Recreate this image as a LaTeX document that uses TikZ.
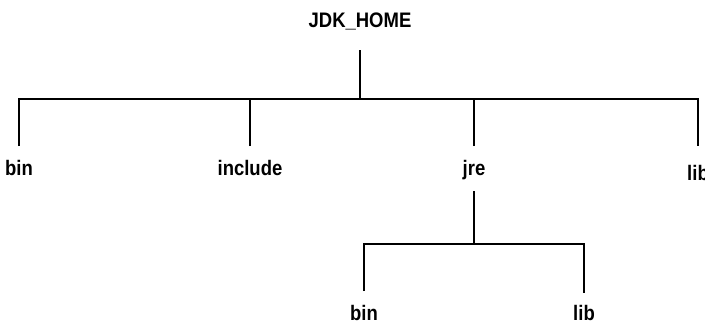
\documentclass[tikz,border=0pt]{standalone}
\usepackage{fontspec}
\setmainfont{Liberation Sans}[FakeStretch=0.88]

\begin{document}
\begin{tikzpicture}[x=1pt,y=-1pt,
    dir/.style={font=\fontsize{21}{25}\selectfont\bfseries,inner sep=0pt,
                text height=17pt,text depth=4pt,outer ysep=12pt,anchor=base},
    tree/.style={line width=1.4pt}]
  \useasboundingbox (0,0) rectangle (705,325);
  % root and first level
  \node[dir,outer ysep=19pt] (home) at (360,27) {JDK\_HOME};
  \node[dir] (bin) at (19,175) {bin};
  \node[dir] (include) at (250,175) {include};
  \node[dir] (jre) at (474,175) {jre};
  \node[dir,outer ysep=17pt] (lib) at (698,180) {lib};
  % jre children
  \node[dir] (jbin) at (364,320) {bin};
  \node[dir,outer ysep=10pt] (jlib) at (584,320) {lib};
  \coordinate (bar) at (360,99);
  \coordinate (jbar) at (474,244);
  \draw[tree] (home.south) -- (bar);
  \draw[tree] (bin.north) -- (bin.north |- bar) -- (lib.north |- bar) -- (lib.north);
  \draw[tree] (include.north) -- (include.north |- bar);
  \draw[tree] (jre.north) -- (jre.north |- bar);
  \draw[tree] (jre.south) -- (jbar);
  \draw[tree] (jbin.north) -- (jbin.north |- jbar) -- (jlib.north |- jbar) -- (jlib.north);
\end{tikzpicture}
\end{document}
